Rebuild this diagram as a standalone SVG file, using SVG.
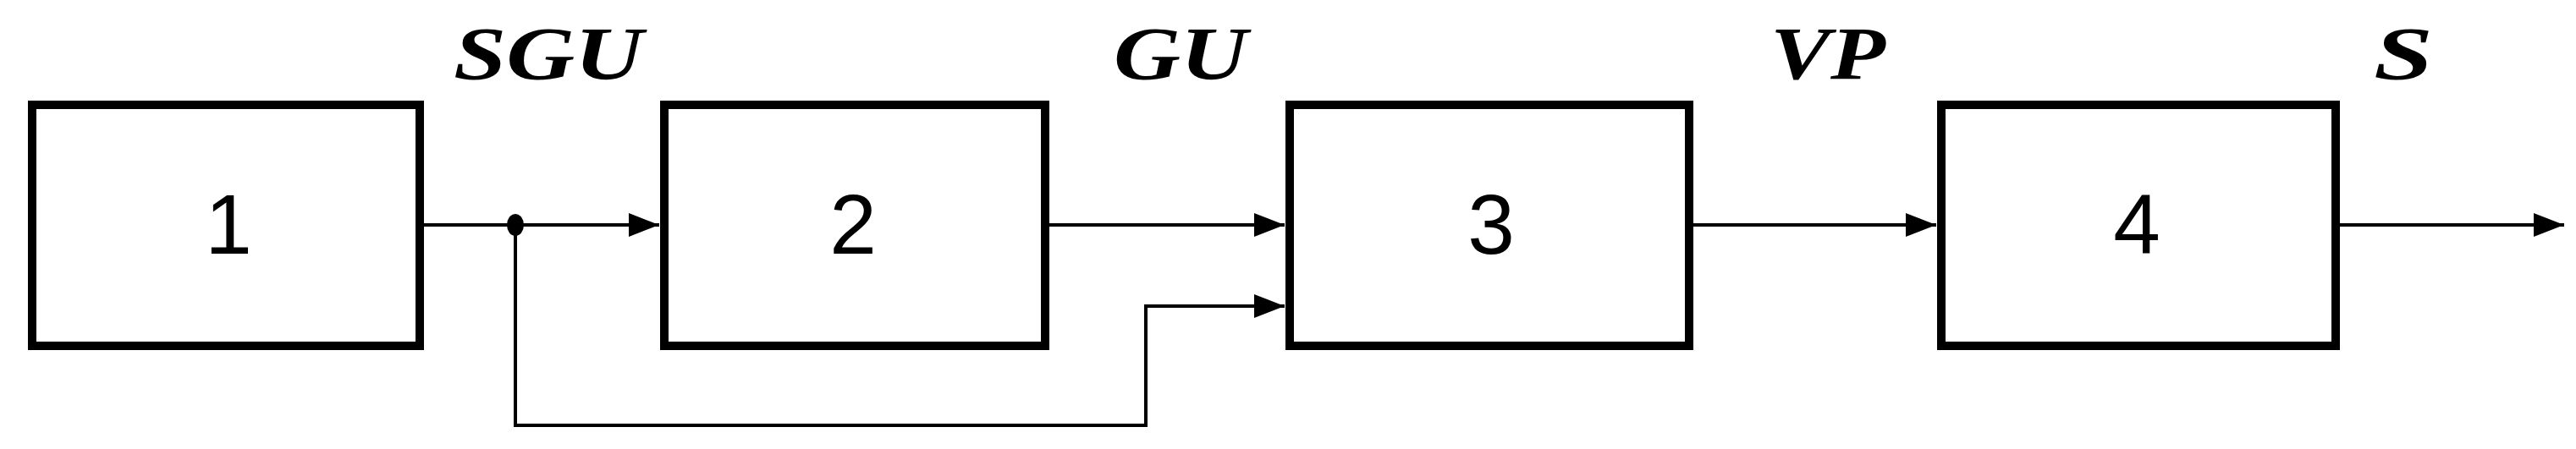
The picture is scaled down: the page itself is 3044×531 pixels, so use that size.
<svg xmlns="http://www.w3.org/2000/svg" width="3044" height="531" viewBox="0 0 3044 531">
<style>
.box{fill:#fff;stroke:#000;stroke-width:10}
.num{font-family:"Liberation Sans",Arial,sans-serif;font-size:100px;text-anchor:middle}
.lbl{font-family:"Liberation Serif","Times New Roman",serif;font-style:italic;font-weight:bold;font-size:80px}
.ln{fill:none;stroke:#000;stroke-width:4}
</style>
<defs>
<marker id="ah" markerUnits="userSpaceOnUse" markerWidth="40" markerHeight="30" refX="36" refY="14" orient="auto">
<path d="M0,0 L36,14 L0,28 Z" fill="#000"/>
</marker>
</defs>
<g id="node1"><rect class="box" x="38" y="124" width="458" height="285"/><text class="num" x="270" y="300">1</text></g>
<g id="node2"><rect class="box" x="785" y="124" width="450" height="285"/><text class="num" x="1008" y="300">2</text></g>
<g id="node3"><rect class="box" x="1524" y="124" width="472" height="285"/><text class="num" x="1762" y="300">3</text></g>
<g id="node4"><rect class="box" x="2294" y="124" width="466" height="285"/><text class="num" x="2525" y="300">4</text></g>
<g id="labels">
<text class="lbl" x="536" y="93" textLength="224" lengthAdjust="spacingAndGlyphs" transform="translate(0,93) scale(1,1.12) translate(0,-93)">SGU</text>
<text class="lbl" x="1316" y="93" textLength="158" lengthAdjust="spacingAndGlyphs" transform="translate(0,93) scale(1,1.12) translate(0,-93)">GU</text>
<text class="lbl" x="2092" y="93" textLength="136" lengthAdjust="spacingAndGlyphs" transform="translate(0,93) scale(1,1.12) translate(0,-93)">VP</text>
<text class="lbl" x="2805" y="93" textLength="70" lengthAdjust="spacingAndGlyphs" transform="translate(0,93) scale(1,1.12) translate(0,-93)">S</text>
</g>
<g id="connectors">
<path class="ln" d="M500,266 H779" marker-end="url(#ah)"/>
<path class="ln" d="M1239,266 H1518" marker-end="url(#ah)"/>
<path class="ln" d="M609,266 V503 H1354 V362 H1518" marker-end="url(#ah)"/>
<path class="ln" d="M2000,266 H2288" marker-end="url(#ah)"/>
<path class="ln" d="M2764,266 H3030" marker-end="url(#ah)"/>
<ellipse cx="609" cy="266" rx="10" ry="13" fill="#000"/>
</g>
</svg>
